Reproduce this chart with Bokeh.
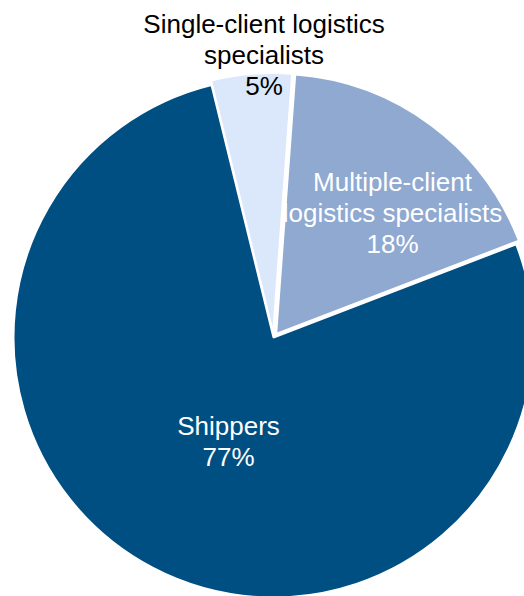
import math
from bokeh.plotting import figure
from bokeh.models import Range1d, ColumnDataSource
from bokeh.core.properties import value
from bokeh.embed import file_html
from bokeh.resources import INLINE

# ---- data ----
categories = ["Multiple-client logistics specialists", "Single-client logistics specialists", "Shippers"]
shares = [18, 5, 77]
colors = ["#8FA9D1", "#DBE7FA", "#004F82"]
label_lines = [
    ["Multiple-client", "logistics specialists", "18%"],
    ["Single-client logistics", "specialists", "5%"],
    ["Shippers", "77%"],
]
label_colors = ["white", "black", "white"]

# ---- layout ----
W, H = 524, 596
cx, cy_px = 273, 337
R = 260
start_deg = 21.0
explode = [4.5, 4.5, 0.0]
label_anchor_px = [(392, 181), (263.5, 23), (228, 425)]
line_step = 31.0

cy = H - cy_px

p = figure(width=W, height=H, output_backend="svg", toolbar_location=None,
           x_range=Range1d(0, W), y_range=Range1d(0, H), min_border=0)
p.axis.visible = False
p.grid.visible = False
p.outline_line_color = None
p.background_fill_color = "white"
p.border_fill_color = "white"

total = float(sum(shares))
starts, ends, xs, ys = [], [], [], []
a = start_deg
for s, e in zip(shares, explode):
    span = 360.0 * s / total
    mid = math.radians(a + span / 2)
    starts.append(math.radians(a))
    ends.append(math.radians(a + span))
    xs.append(cx + e * math.cos(mid))
    ys.append(cy + e * math.sin(mid))
    a += span

src = ColumnDataSource(dict(x=xs, y=ys, start=starts, end=ends, color=colors, cat=categories))
p.wedge(x="x", y="y", radius=R, start_angle="start", end_angle="end",
        fill_color="color", line_color="white", line_width=2, source=src)

tx, ty, tt, tc = [], [], [], []
for lines, (ax, ay), col in zip(label_lines, label_anchor_px, label_colors):
    for i, ln in enumerate(lines):
        tx.append(ax)
        ty.append(H - (ay + i * line_step))
        tt.append(ln)
        tc.append(col)
tsrc = ColumnDataSource(dict(x=tx, y=ty, t=tt, c=tc))
p.text(x="x", y="y", text="t", text_color="c", source=tsrc, text_align="center",
       text_baseline="middle", text_font=value("Liberation Sans"), text_font_size="26px")

open("out.html", "w").write(file_html(p, INLINE))
